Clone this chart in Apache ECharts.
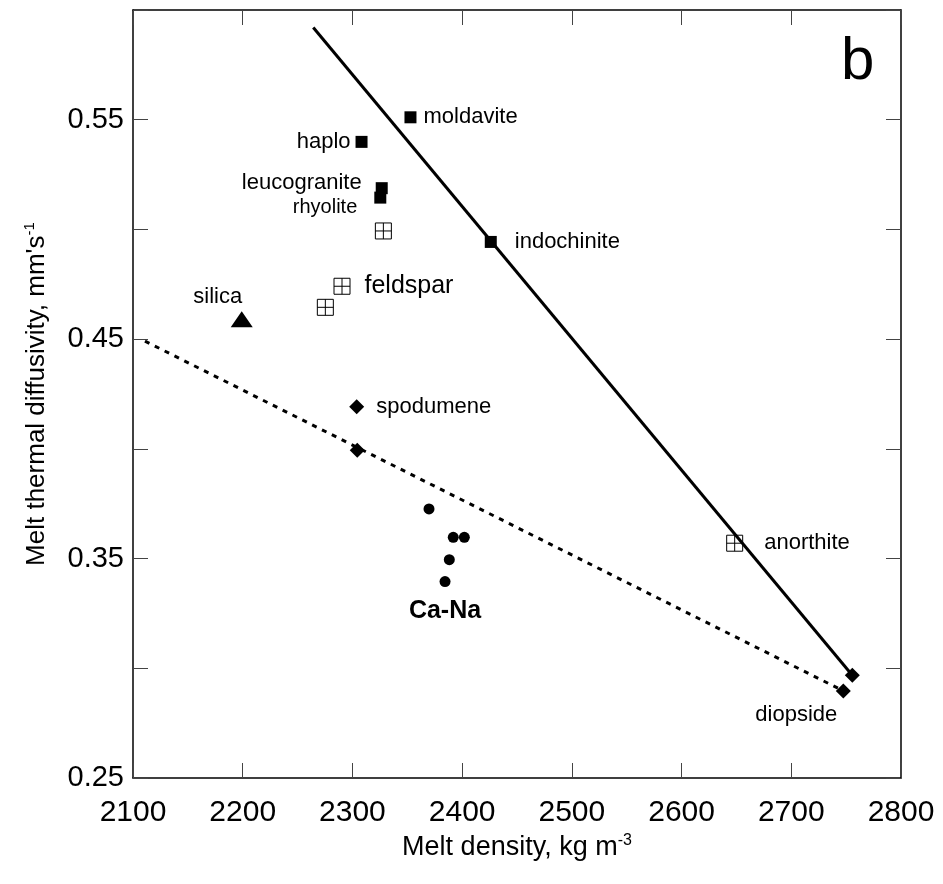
<!DOCTYPE html>
<html>
<head>
<meta charset="utf-8">
<script src="https://cdn.jsdelivr.net/npm/echarts@6/dist/echarts.min.js"></script>
<style>
  html, body { margin: 0; padding: 0; background: #fff; }
  #chart { width: 943px; height: 884px; }
</style>
</head>
<body>
<div id="chart"></div>
<script>
// tick labels
var xTicks = ['2100', '2200', '2300', '2400', '2500', '2600', '2700', '2800']
var yTicks = ['0.25', '0.35', '0.45', '0.55']

// filled squares
var squareNames = ['moldavite', 'haplo', 'leucogranite', 'rhyolite', 'indochinite']
var squareX = [2352.9, 2308.3, 2326.7, 2325.4, 2426.1]
var squareY = [0.5511, 0.5399, 0.5188, 0.5145, 0.4943]

// open squares with a cross
var crossNames = ['', 'feldspar', '', 'anorthite']
var crossX = [2328.2, 2290.5, 2275.3, 2648.4]
var crossY = [0.4993, 0.4741, 0.4645, 0.3570]

// triangle
var triNames = ['silica']
var triX = [2199.1]
var triY = [0.4591]

// diamonds
var diaNames = ['spodumene', '', '', 'diopside']
var diaX = [2303.9, 2304.4, 2755.6, 2747.4]
var diaY = [0.4192, 0.3994, 0.2968, 0.2897]

// Ca-Na circles
var circNames = ['', '', '', '', 'Ca-Na']
var circX = [2369.8, 2391.9, 2402.0, 2388.3, 2384.4]
var circY = [0.3726, 0.3597, 0.3597, 0.3495, 0.3395]

// trend lines
var solidX = [2264.3, 2755.6]
var solidY = [0.592, 0.2968]
var dotX = [2110.9, 2747.4]
var dotY = [0.4491, 0.2897]

var FONT = 'Liberation Sans, Arial, Helvetica, sans-serif'

var labelStyle = {
  'moldavite': { position: 'right', distance: 7 },
  'haplo': { position: 'left', distance: 5 },
  'leucogranite': { position: 'left', distance: 14, offset: [0, -5] },
  'rhyolite': { position: 'left', distance: 17, offset: [0, 10], fontSize: 20 },
  'indochinite': { position: 'right', distance: 18 },
  'feldspar': { position: 'right', distance: 12, fontSize: 25 },
  'anorthite': { position: 'right', distance: 19 },
  'silica': { position: 'top', distance: 3, offset: [-24, 0] },
  'spodumene': { position: 'right', distance: 12 },
  'diopside': { position: 'bottom', distance: 6, offset: [-47, 0] },
  'Ca-Na': { position: 'bottom', distance: 11, fontSize: 25, fontWeight: 'bold' }
}

function pts(names, xs, ys) {
  var out = []
  for (var i = 0; i < xs.length; i++) {
    var item = { value: [xs[i], ys[i]] }
    var n = names ? names[i] : ''
    if (n) {
      var l = labelStyle[n]
      item.label = {
        show: true,
        formatter: n,
        position: l.position,
        distance: l.distance,
        offset: l.offset || [0, 0],
        fontSize: l.fontSize || 22,
        fontWeight: l.fontWeight || 'normal',
        fontFamily: FONT,
        color: '#000'
      }
    }
    out.push(item)
  }
  return out
}

function line(xs, ys) {
  var out = []
  for (var i = 0; i < xs.length; i++) out.push([xs[i], ys[i]])
  return out
}

var tickStyle = { show: true, inside: true, length: 15, lineStyle: { color: '#444', width: 1 } }
var lineStyleAxis = { show: true, onZero: false, lineStyle: { color: '#000', width: 1.5 } }

var myChart = echarts.init(document.getElementById('chart'))
myChart.setOption({
  animation: false,
  backgroundColor: '#fff',
  textStyle: { fontFamily: FONT },
  title: {
    text: 'b',
    left: 836,
    top: 27,
    textStyle: { fontSize: 60, fontWeight: 'normal', color: '#000', fontFamily: FONT }
  },
  grid: { left: 133, right: 42, top: 10, bottom: 106, containLabel: false },
  xAxis: [
    {
      type: 'value', min: 2100, max: 2800, interval: 100, position: 'bottom',
      axisLine: lineStyleAxis, axisTick: tickStyle, splitLine: { show: false },
      axisLabel: {
        fontSize: 30, color: '#000', margin: 20, fontFamily: FONT,
        formatter: function (v) { var s = String(Math.round(v)); return xTicks.indexOf(s) >= 0 ? s : '' }
      },
      name: 'Melt density, kg m{sup|-3}',
      nameLocation: 'middle', nameGap: 54,
      nameTextStyle: {
        fontSize: 27, color: '#000', fontFamily: FONT,
        rich: { sup: { fontSize: 16, verticalAlign: 'top', padding: [0, 0, 14, 0], color: '#000', fontFamily: FONT } }
      }
    },
    {
      type: 'value', min: 2100, max: 2800, interval: 100, position: 'top',
      axisLine: lineStyleAxis, axisTick: tickStyle, splitLine: { show: false },
      axisLabel: { show: false }
    }
  ],
  yAxis: [
    {
      type: 'value', min: 0.25, max: 0.6, interval: 0.05, position: 'left',
      axisLine: lineStyleAxis, axisTick: tickStyle, splitLine: { show: false },
      axisLabel: {
        fontSize: 29, color: '#000', margin: 9, fontFamily: FONT,
        formatter: function (v) { var s = v.toFixed(2); return yTicks.indexOf(s) >= 0 ? s : '' }
      },
      name: "Melt thermal diffusivity, mm's{sup|-1}",
      nameLocation: 'middle', nameGap: 82,
      nameTextStyle: {
        fontSize: 26, color: '#000', fontFamily: FONT,
        rich: { sup: { fontSize: 15, verticalAlign: 'top', padding: [0, 0, 14, 0], color: '#000', fontFamily: FONT } }
      }
    },
    {
      type: 'value', min: 0.25, max: 0.6, interval: 0.05, position: 'right',
      axisLine: lineStyleAxis, axisTick: tickStyle, splitLine: { show: false },
      axisLabel: { show: false }
    }
  ],
  series: [
    {
      type: 'line', data: line(solidX, solidY), symbol: 'none',
      lineStyle: { color: '#000', width: 3 }, z: 2
    },
    {
      type: 'line', data: line(dotX, dotY), symbol: 'none',
      lineStyle: { color: '#000', width: 3, type: [5, 6] }, z: 2
    },
    {
      type: 'scatter', data: pts(squareNames, squareX, squareY), symbol: 'rect', symbolSize: 12,
      itemStyle: { color: '#000', opacity: 1 }, z: 3
    },
    {
      type: 'scatter', data: pts(crossNames, crossX, crossY),
      symbol: 'path://M0,0H16V16H0ZM8,0V16M0,8H16', symbolSize: 16,
      itemStyle: { color: 'none', borderColor: '#000', borderWidth: 1, opacity: 1 }, z: 3
    },
    {
      type: 'scatter', data: pts(triNames, triX, triY), symbol: 'triangle', symbolSize: [22, 16],
      itemStyle: { color: '#000', opacity: 1 }, z: 3
    },
    {
      type: 'scatter', data: pts(diaNames, diaX, diaY), symbol: 'diamond', symbolSize: 15,
      itemStyle: { color: '#000', opacity: 1 }, z: 3
    },
    {
      type: 'scatter', data: pts(circNames, circX, circY), symbol: 'circle', symbolSize: 11,
      itemStyle: { color: '#000', opacity: 1 }, z: 3
    }
  ]
})
</script>
</body>
</html>
